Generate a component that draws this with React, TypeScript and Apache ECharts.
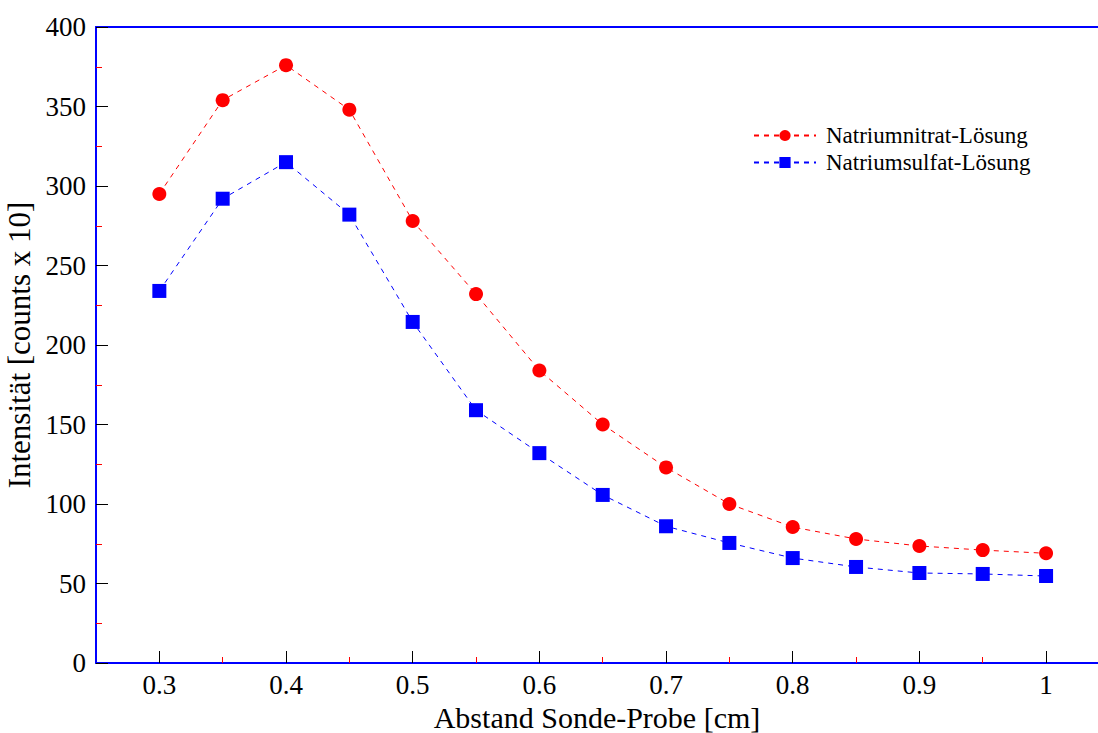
import React, { useEffect, useRef } from "react";
import * as echarts from "echarts";

const distances = [0.3, 0.35, 0.4, 0.45, 0.5, 0.55, 0.6, 0.65, 0.7, 0.75, 0.8, 0.85, 0.9, 0.95, 1.0];
const nitrat = [295, 354, 376, 348, 278, 232, 184, 150, 123, 100, 85.5, 78, 73.6, 71, 69];
const sulfat = [234, 292, 315, 282, 214.5, 159, 132, 105.7, 86, 75.5, 66, 60.4, 56.6, 56, 54.7];
const xMajorTicks = [0.3, 0.4, 0.5, 0.6, 0.7, 0.8, 0.9, 1.0];
const xMinorTicks = [0.35, 0.45, 0.55, 0.65, 0.75, 0.85, 0.95];
const seriesNames = ["Natriumnitrat-Lösung", "Natriumsulfat-Lösung"];

const FONT = "'Liberation Serif', 'Times New Roman', serif";
const X_MIN = 0.25;
const X_MAX = 1.041;

export default function App() {
  const ref = useRef<HTMLDivElement>(null);
  useEffect(() => {
    const chart = echarts.init(ref.current!, null, { renderer: "svg" });
    const pair = (ys: number[]) => distances.map((x, i) => [x, ys[i]]);
    chart.setOption({
      animation: false,
      backgroundColor: "#ffffff",
      textStyle: { fontFamily: FONT },
      grid: {
        left: 96,
        top: 27,
        right: 0,
        bottom: 70,
        show: false,
        containLabel: false,
        outerBoundsMode: "none",
      },
      legend: {
        left: 748,
        top: 119,
        orient: "vertical",
        itemWidth: 62,
        itemHeight: 14,
        itemGap: 4,
        textStyle: { fontFamily: FONT, fontSize: 23, color: "#000", padding: [0, 0, 0, 5] },
        data: seriesNames,
      },
      xAxis: [
        {
          type: "value",
          min: X_MIN,
          max: X_MAX,
          position: "bottom",
          name: "Abstand Sonde-Probe [cm]",
          nameLocation: "middle",
          nameGap: 37,
          nameTextStyle: { fontFamily: FONT, fontSize: 30, lineHeight: 30, color: "#000" },
          axisLine: { show: true, onZero: false, lineStyle: { color: "#0000ff", width: 2 } },
          axisTick: {
            show: true,
            inside: true,
            length: 12,
            lineStyle: { color: "#000" },
            customValues: xMajorTicks,
          },
          axisLabel: {
            fontFamily: FONT,
            fontSize: 27,
            color: "#000",
            margin: 8,
            customValues: xMajorTicks,
            formatter: (v: number) => String(Math.round(v * 10) / 10),
          },
          splitLine: { show: false },
        },
        {
          type: "value",
          min: X_MIN,
          max: X_MAX,
          position: "bottom",
          axisLine: { show: false },
          axisTick: {
            show: true,
            inside: true,
            length: 6,
            lineStyle: { color: "#ff0000" },
            customValues: xMinorTicks,
          },
          axisLabel: { show: false },
          splitLine: { show: false },
        },
        {
          type: "value",
          min: X_MIN,
          max: X_MAX,
          position: "top",
          axisLine: { show: true, onZero: false, lineStyle: { color: "#0000ff", width: 2 } },
          axisTick: { show: false },
          axisLabel: { show: false },
          splitLine: { show: false },
        },
      ],
      yAxis: {
        type: "value",
        min: 0,
        max: 400,
        interval: 50,
        name: "Intensität [counts x 10]",
        nameLocation: "middle",
        nameGap: 55,
        nameTextStyle: { fontFamily: FONT, fontSize: 31, color: "#000" },
        axisLine: { show: true, lineStyle: { color: "#0000ff", width: 2 } },
        axisTick: { show: true, inside: true, length: 12, lineStyle: { color: "#000" } },
        minorTick: { show: true, splitNumber: 2, length: 6, lineStyle: { color: "#ff0000" } },
        axisLabel: { fontFamily: FONT, fontSize: 27, color: "#000", margin: 10 },
        splitLine: { show: false },
        minorSplitLine: { show: false },
      },
      series: [
        {
          name: seriesNames[0],
          type: "line",
          xAxisIndex: 0,
          data: pair(nitrat),
          symbol: "circle",
          symbolSize: 14,
          itemStyle: { color: "#ff0000" },
          lineStyle: { color: "#ff0000", width: 1, type: [5, 5] },
        },
        {
          name: seriesNames[1],
          type: "line",
          xAxisIndex: 0,
          data: pair(sulfat),
          symbol: "rect",
          symbolSize: 14,
          itemStyle: { color: "#0000ff" },
          lineStyle: { color: "#0000ff", width: 1, type: [5, 5] },
        },
      ],
    });
    return () => chart.dispose();
  }, []);
  return (
    <div
      ref={ref}
      style={{ position: "fixed", left: 0, top: 0, width: 1098, height: 733, background: "#fff" }}
    />
  );
}
